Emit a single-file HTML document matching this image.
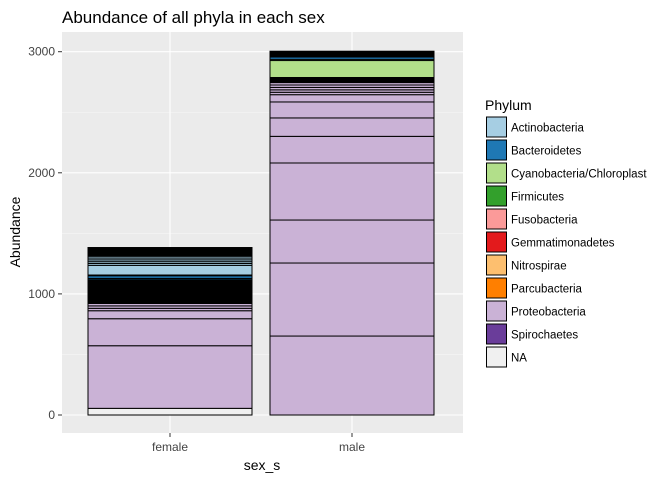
<!DOCTYPE html>
<html><head><meta charset="utf-8"><style>
body{margin:0;background:#fff;}
svg text{font-family:"Liberation Sans",Arial,sans-serif;}
</style></head><body>
<svg id="c" width="672" height="480" xmlns="http://www.w3.org/2000/svg">
<text x="62" y="23" font-size="17" fill="#000">Abundance of all phyla in each sex</text>
<rect x="62" y="32" width="401" height="401" fill="#EBEBEB"/>
<g id="grid"></g>
<g id="bars"></g>
<g id="axes"></g>
<text x="262" y="470" font-size="14" text-anchor="middle">sex_s</text>
<text transform="translate(20,232) rotate(-90)" font-size="14" text-anchor="middle">Abundance</text>
<g id="legend"><text x="485" y="110" font-size="14">Phylum</text></g>
</svg>
<script>
const categories = ["female","male"];
const yTicks = [0,1000,2000,3000];
const phyla = ["Actinobacteria","Bacteroidetes","Cyanobacteria/Chloroplast","Firmicutes","Fusobacteria","Gemmatimonadetes","Nitrospirae","Parcubacteria","Proteobacteria","Spirochaetes","NA"];
const colors = ["#A6CEE3","#1F78B4","#B2DF8A","#33A02C","#FB9A99","#E31A1C","#FDBF6F","#FF7F00","#CAB2D6","#6A3D9A","#F0F0F0"];
// stacked bottom -> top; phylum index per segment
const femaleValues = [55,517,223,66,20,20,20, 6,6,6,6,6,6,6,6,6, 5, 6,6,6,6,6,6,6,6,6,6,6,6,6,6,6,6,6,6,6,6,6,6, 5,11,22,6,80,15,15,15,15,15, 6,6,6,6,6,6,6,6,6,6,6,6];
const femalePhyla  = [10,8,8,8,8,8,8, 8,8,8,8,8,8,8,8,8, 3, 8,8,8,8,8,8,8,8,8,8,8,8,8,8,8,8,8,8,8,8,8,8, 2,1,1,0,0,0,0,0,0,0, 0,0,0,0,0,0,0,0,0,0,0,0];
const maleValues = [652,603,355,471,220,152,132,60,20,20,20,20,20, 6,6,6,6,6,6,6, 140,10,19, 6,6,6,6,6,6,6,6];
const malePhyla  = [8,8,8,8,8,8,8,8,8,8,8,8,8, 8,8,8,8,8,8,8, 2,2,1, 0,0,0,0,0,0,0,0];
const NS="http://www.w3.org/2000/svg";
const y0=415, k=0.1211;
function yScale(v){return y0-v*k;}
const xCenters={female:170,male:352};
function xScale(c){return xCenters[c];}
const bw=164;
function mk(tag,attrs,parent){const e=document.createElementNS(NS,tag);for(const a in attrs)e.setAttribute(a,attrs[a]);parent.appendChild(e);return e;}
const grid=document.getElementById('grid'),axes=document.getElementById('axes');
[500,1500,2500].forEach(v=>{const l=mk('line',{x1:62,x2:463,y1:yScale(v),y2:yScale(v),stroke:'#F7F7F7','stroke-width':0.6},grid);

});
yTicks.forEach(v=>{const l=mk('line',{x1:62,x2:463,y1:yScale(v),y2:yScale(v),stroke:'#fff','stroke-width':1.1},grid);


const t=mk('line',{x1:58,x2:62,y1:yScale(v),y2:yScale(v),stroke:'#333','stroke-width':1},axes);


const tx=mk('text',{x:55,y:yScale(v)+4,'font-size':12,'text-anchor':'end',fill:'#444'},axes);tx.textContent=v;

});
categories.forEach(c=>{const l=mk('line',{x1:xScale(c),x2:xScale(c),y1:32,y2:433,stroke:'#fff','stroke-width':1.1},grid);


const t=mk('line',{x1:xScale(c),x2:xScale(c),y1:433,y2:437,stroke:'#333','stroke-width':1},axes);


const tx=mk('text',{x:xScale(c),y:451,'font-size':12,'text-anchor':'middle',fill:'#444'},axes);tx.textContent=c;

});
const bars=document.getElementById('bars');
[[categories[0],femaleValues,femalePhyla],[categories[1],maleValues,malePhyla]].forEach(([c,vals,ph])=>{
 let cum=0;
 vals.forEach((v,i)=>{const top=yScale(cum+v),bot=yScale(cum);cum+=v;
  const r=mk('rect',{x:xScale(c)-bw/2,y:top,width:bw,height:bot-top,fill:colors[ph[i]],stroke:'#000','stroke-width':1},bars);
  
  });
});
const leg=document.getElementById('legend');
phyla.forEach((p,i)=>{const y=117+i*23;
 const r=mk('rect',{x:486.5,y:y,width:20,height:20,fill:colors[i],stroke:'#000','stroke-width':1},leg);
 
 
 const t=mk('text',{x:511,y:y+14.5,'font-size':11.5,fill:'#000'},leg);t.textContent=p;
 
 });
</script>
</body></html>
